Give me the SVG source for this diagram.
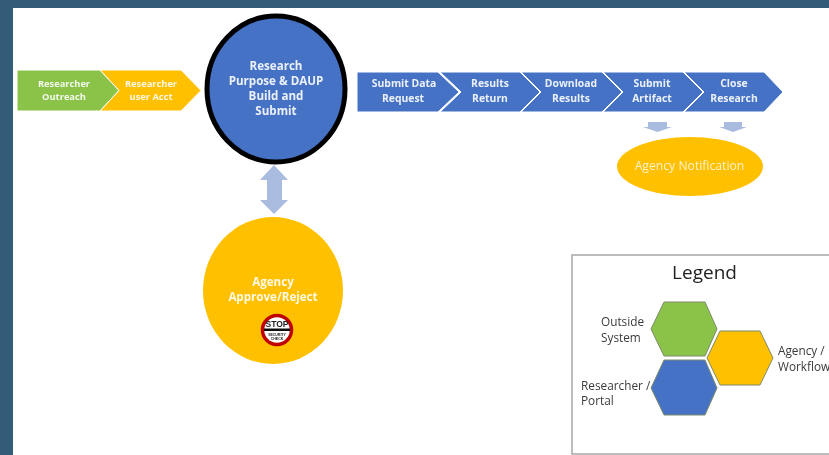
<svg xmlns="http://www.w3.org/2000/svg" width="829" height="455" viewBox="0 0 829 455">
<style>
.s{font-family:"Open Sans","Liberation Sans",sans-serif;font-weight:700;font-size:9.300px;fill:#fff;fill-opacity:.9;text-anchor:middle}
.m{font-size:11.600px}
.n{font-size:10.400px}
.l{font-family:"Open Sans","Liberation Sans",sans-serif;font-size:11.800px;fill:#3a3a3a}
.b{fill:#4472c4}.g{fill:#8bc34a}.o{fill:#ffc000}
.a{fill:#a9bbdf}
.c{stroke:#fff;stroke-width:1}
.h{stroke:#7d8a6a;stroke-width:1}
.t{font-family:"Liberation Sans",sans-serif;font-weight:700;text-anchor:middle;fill:#222}
</style>
<defs><filter id="soft" x="-2%" y="-2%" width="104%" height="104%"><feGaussianBlur stdDeviation="0.5"/></filter></defs>
<rect width="829" height="455" fill="#335c78"/>
<g filter="url(#soft)">
<rect x="13" y="8" width="816" height="447" fill="#fff"/>
<g id="connectors">
<path class="a" d="M274 165L288 180H282V200H288L274 214L260 200H267V180H260Z"/>
<path class="a" d="M648 122H667V127H672L657.500 132L643 127H648Z"/>
<path class="a" d="M724 122H742V127H747L733 132L719 127H724Z"/>
</g>
<g id="node-outreach"><path class="g c" d="M17 70H100L119 90.500L100 111H17Z"/><text class="s" x="64" y="87">Researcher</text><text class="s" x="64" y="100">Outreach</text></g>
<g id="node-user-acct"><path class="o c" d="M100 70H181L201 90.500L181 111H100L119 90.500Z"/><text class="s" x="151" y="87">Researcher</text><text class="s" x="151" y="100">user Acct</text></g>
<g id="node-purpose"><ellipse cx="276" cy="89" rx="69" ry="73" class="b" stroke="#000" stroke-width="5"/><text class="s m" x="276" y="70">Research</text><text class="s m" x="276" y="85">Purpose &amp; DAUP</text><text class="s m" x="276" y="100">Build and</text><text class="s m" x="276" y="115">Submit</text></g>
<g id="node-agency"><ellipse class="o" cx="273" cy="290.500" rx="70" ry="73.500"/><text class="s m" x="273" y="286">Agency</text><text class="s m" x="273" y="301">Approve/Reject</text>
<g id="stop-sign"><circle cx="277" cy="330" r="14.500" fill="#fff" stroke="#c00000" stroke-width="3.500"/><text class="t" x="277" y="327" font-size="8.500">STOP</text><rect x="264" y="328.500" width="26" height="2.500" fill="#111"/><text class="t" x="277" y="336" font-size="3.500">SECURITY</text><text class="t" x="277" y="340" font-size="3.500">CHECK</text></g></g>
<g id="node-submit-data"><path class="b c" d="M357 72H438L459 92L438 112H357Z"/><text class="s n" x="404" y="87">Submit Data</text><text class="s n" x="403" y="102">Request</text></g>
<g id="node-results-return"><path class="b c" d="M440 72H520L540 92L520 112H440L461 92Z"/><text class="s n" x="490" y="87">Results</text><text class="s n" x="490" y="102">Return</text></g>
<g id="node-download"><path class="b c" d="M521 72H602L622 92L602 112H521L541 92Z"/><text class="s n" x="571" y="87">Download</text><text class="s n" x="571" y="102">Results</text></g>
<g id="node-artifact"><path class="b c" d="M603 72H683L703 92L683 112H603L623 92Z"/><text class="s n" x="652" y="87">Submit</text><text class="s n" x="652" y="102">Artifact</text></g>
<g id="node-close"><path class="b c" d="M684 72H764L783 92L764 112H684L704 92Z"/><text class="s n" x="734" y="87">Close</text><text class="s n" x="734" y="102">Research</text></g>
<g id="node-notification"><ellipse class="o" cx="690" cy="166.500" rx="73" ry="29.500"/><text x="689.500" y="170" font-family="Open Sans,Liberation Sans,sans-serif" font-size="12.200px" fill="#fff" fill-opacity=".8" text-anchor="middle">Agency Notification</text></g>
<g id="legend">
<rect x="572" y="255" width="270" height="199" fill="#fff" stroke="#a6a6a6" stroke-width="1.500"/>
<text x="704.500" y="279" font-family="Open Sans,Liberation Sans,sans-serif" font-size="19px" text-anchor="middle" fill="#222">Legend</text>
<path class="g h" d="M664 302H705L717 329L705 356H664L651 329Z"/>
<path class="o h" d="M720 331H760L773 358L760 385H720L707 358Z"/>
<path class="b h" d="M664 360H705L717 388L705 415H664L651 388Z"/>
<text class="l" x="601" y="326">Outside</text><text class="l" x="601" y="342">System</text>
<text class="l" x="778" y="355">Agency /</text><text class="l" x="778" y="371">Workflow</text>
<text class="l" x="581" y="390">Researcher /</text><text class="l" x="581" y="405">Portal</text>
</g>
</g>
</svg>
